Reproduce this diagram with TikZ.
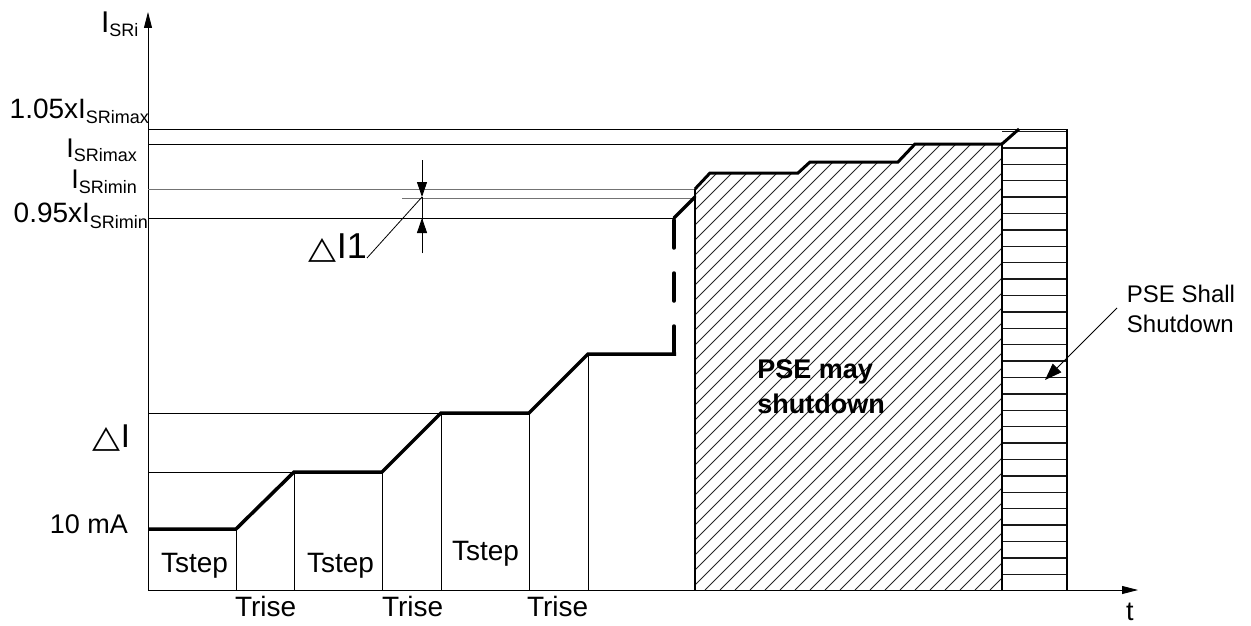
\documentclass[tikz,border=0pt]{standalone}
\usepackage{fontspec}
\setmainfont{Liberation Sans}
\newfontfamily\djv{DejaVu Sans}
\usetikzlibrary{arrows.meta}
\newcommand{\myfs}[1]{\fontsize{#1pt}{#1pt}\selectfont}
\newcommand{\mytri}{\scalebox{1.4}[1.2]{\djv\myfs{26}△}}
\begin{document}
\begin{tikzpicture}[x=1pt,y=-1pt,
  gridline/.style={line width=0.9pt,black},
  grayline/.style={line width=0.9pt,black!55},
  curve/.style={line width=3.5pt,black,line join=miter},
  boxedge/.style={line width=2pt,black},
  hatchline/.style={line width=0.8pt,black!85},
  shline/.style={line width=1.3pt,black!90},
  axis/.style={line width=0.9pt,-{Triangle[length=16pt,width=8pt]}},
  dimarrow/.style={line width=0.9pt,-{Triangle[length=15pt,width=10pt]}},
  lbl/.style={inner sep=0pt,outer sep=0pt}]
\useasboundingbox (0,0) rectangle (1251,626);

% axes
\coordinate (O) at (148,590);
\coordinate (ytip) at (148,12);
\coordinate (xtip) at (1138,590);
\draw[axis] (O) -- (ytip);
\draw[axis] (O) -- (xtip);

% hatched region (PSE may shutdown)
\begin{scope}
\clip (695,590) -- (695,189) -- (710,173) -- (798,173) -- (810,162) -- (898,162) -- (915,144) -- (1002,144) -- (1002,590) -- cycle;
\foreach \i in {0,...,52} \draw[hatchline] (240+\i*15,590) -- ++(470,-470);
\end{scope}

% horizontal hatch region (PSE shall shutdown)
\begin{scope}
\clip (1002,129) rectangle (1067,590);
\foreach \k in {0,...,27} \draw[shline] (1002,131.5+\k*16.4) -- (1067,131.5+\k*16.4);
\end{scope}
\draw[gridline,line width=1.3pt] (1067,129) -- (1067,590);

% level lines
\draw[gridline] (148,129) -- (1067,129);
\draw[gridline] (148,144) -- (1002,144);
\draw[grayline] (148,189) -- (695,189);
\draw[grayline] (402,198) -- (695,198);
\draw[gridline] (148,218) -- (674,218);
\draw[gridline] (148,472) -- (294,472);
\draw[gridline] (148,413) -- (441,413);

% vertical time marks
\draw[gridline] (236,529) -- (236,590);
\draw[gridline] (294,472) -- (294,590);
\draw[gridline] (382,472) -- (382,590);
\draw[gridline] (441,413) -- (441,590);
\draw[gridline] (529,413) -- (529,590);
\draw[gridline] (588,354) -- (588,590);

% main current staircase
\draw[curve] (148,529) -- (236,529) -- (294,472) -- (382,472) -- (441,413) -- (529,413) -- (588,354) -- (676,354);
\draw[curve,line cap=round,dash pattern=on 28pt off 25pt] (674,354) -- (674,218);
\draw[curve,line cap=round] (674,218) -- (695,197);

% hatched box outline
\draw[boxedge] (695,590) -- (695,189);
\draw[curve,line width=3pt] (695,189) -- (710,173) -- (798,173) -- (810,162) -- (898,162) -- (915,144) -- (1002,144);
\draw[boxedge] (1002,144) -- (1002,590);
\draw[curve,line width=3pt] (1002,144) -- (1019,129);

% Delta I1 dimension
\coordinate (d1top) at (422,160);
\coordinate (d1a) at (422,197);
\coordinate (d1bot) at (422,253);
\coordinate (d1b) at (422,218);
\draw[dimarrow] (d1top) -- (d1a);
\draw[dimarrow] (d1bot) -- (d1b);
\draw[gridline] (d1bot) -- (422,197);
\node[lbl,anchor=base east] (dI1) at (367,258) {\mytri\myfs{36}I1};
\draw[line width=0.8pt] (d1a) -- (dI1.base east);

% axis labels
\node[lbl,anchor=base west] (yl) at (101,33) {\myfs{30}I\raisebox{-4pt}{\myfs{18}SRi}};
\node[lbl,anchor=base west] (xl) at (1126,620) {\myfs{27}t};

\node[lbl,anchor=base east] (l105) at (149,118) {\myfs{28}1.05xI\raisebox{-5pt}{\myfs{18}SRimax}};
\node[lbl,anchor=base east] (lmax) at (137,157) {\myfs{27}I\raisebox{-5pt}{\myfs{18}SRimax}};
\node[lbl,anchor=base east] (lmin) at (137,188) {\myfs{27}I\raisebox{-5pt}{\myfs{18}SRimin}};
\node[lbl,anchor=base east] (l095) at (148,222) {\myfs{28}0.95xI\raisebox{-6pt}{\myfs{18}SRimin}};

\node[lbl,anchor=base east] (dI) at (130,447) {\mytri\myfs{33}I};
\node[lbl,anchor=base east] (ten) at (128,533) {\myfs{27}10 mA};

% time labels
\node[lbl,anchor=base west] (ts1) at (161,572) {\myfs{28}Tstep};
\node[lbl,anchor=base west] (ts2) at (307,572) {\myfs{28}Tstep};
\node[lbl,anchor=base west] (ts3) at (452,560) {\myfs{28}Tstep};
\node[lbl,anchor=base west] (tr1) at (235,616) {\myfs{28}Trise};
\node[lbl,anchor=base west] (tr2) at (382,616) {\myfs{28}Trise};
\node[lbl,anchor=base west] (tr3) at (527,616) {\myfs{28}Trise};

% region labels
\node[lbl,align=left,font=\bfseries\fontsize{27pt}{35pt}\selectfont] (may) at (821,387) {PSE may\\shutdown};
\node[lbl,align=left,font=\fontsize{24pt}{30pt}\selectfont] (shall) at (1181,309) {PSE Shall\\Shutdown};
\coordinate (shtip) at (1045,380);
\draw[line width=0.9pt,-{Triangle[length=17pt,width=12pt]}] (1117,308) -- (shtip);
\end{tikzpicture}
\end{document}
